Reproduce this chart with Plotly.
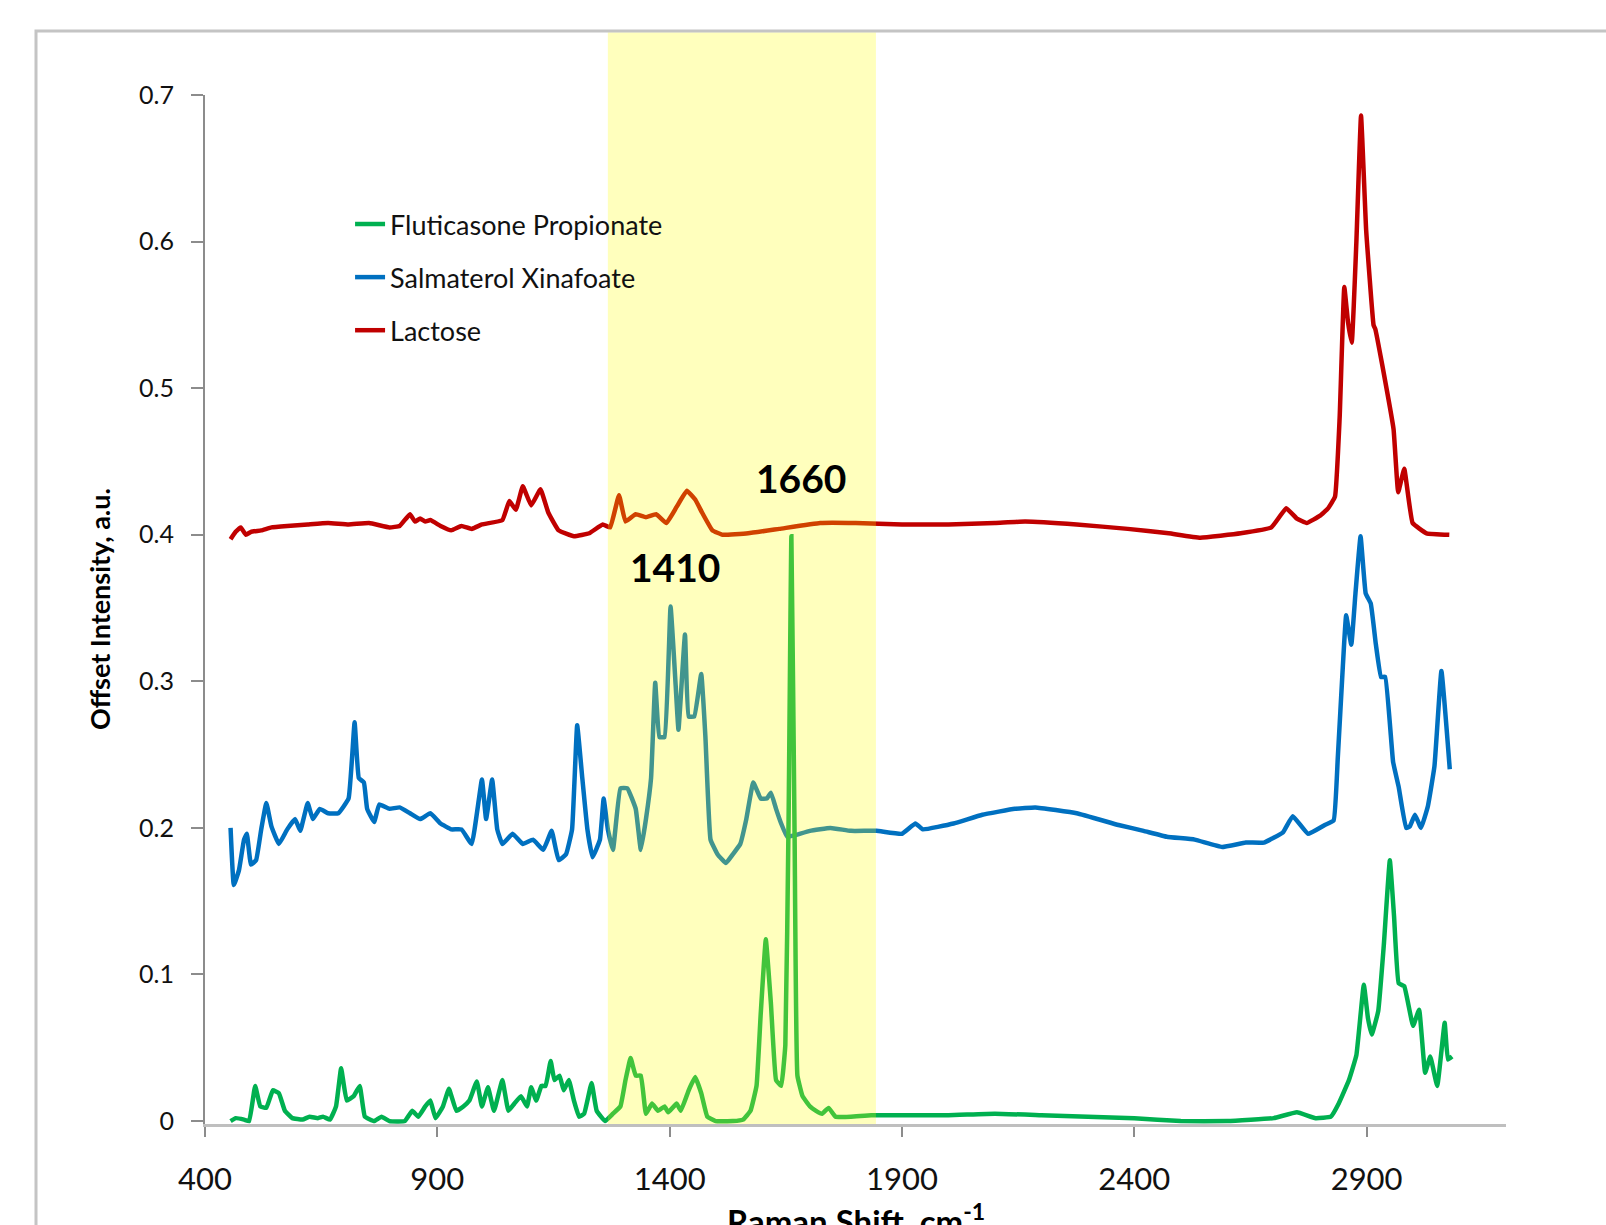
import plotly.graph_objects as go

# ---------------- data ----------------
lactose_x = [455, 466, 477, 488, 499, 521, 543, 577, 621, 665, 709, 753, 797, 819, 841, 852, 863, 874, 885,
             907, 930, 952, 974, 996, 1040, 1055, 1069, 1084, 1102, 1122, 1139, 1161, 1194, 1227, 1256, 1272,
             1291, 1305, 1327, 1349, 1371, 1393, 1415, 1437, 1455, 1470, 1492, 1514, 1569, 1636, 1724, 1800,
             1900, 2000, 2100, 2165, 2276, 2386, 2474, 2542, 2629, 2695, 2727, 2750, 2771, 2800, 2817, 2832,
             2842, 2852, 2860, 2868, 2878, 2888, 2899, 2915, 2919, 2933, 2958, 2968, 2981, 2999, 3029, 3078]
lactose_y = [0.397, 0.402, 0.405, 0.400, 0.402, 0.403, 0.405, 0.406, 0.407, 0.408, 0.407, 0.408, 0.405, 0.406,
             0.414, 0.409, 0.411, 0.409, 0.410, 0.406, 0.403, 0.406, 0.404, 0.407, 0.410, 0.423, 0.417, 0.433,
             0.420, 0.431, 0.415, 0.403, 0.399, 0.401, 0.407, 0.405, 0.427, 0.409, 0.414, 0.412, 0.414, 0.408,
             0.419, 0.430, 0.424, 0.415, 0.403, 0.400, 0.401, 0.404, 0.408, 0.408, 0.407, 0.407, 0.408, 0.409,
             0.407, 0.404, 0.401, 0.398, 0.401, 0.405, 0.418, 0.411, 0.408, 0.413, 0.418, 0.426, 0.480, 0.569,
             0.545, 0.531, 0.600, 0.686, 0.608, 0.543, 0.540, 0.517, 0.472, 0.429, 0.445, 0.408, 0.401, 0.400]

salm_x = [455, 462, 473, 484, 490, 499, 510, 521, 532, 543, 559, 577, 594, 605, 621, 632, 647, 665, 687, 709,
          722, 731, 742, 749, 764, 775, 797, 819, 841, 863, 885, 907, 930, 952, 974, 996, 1005, 1018, 1029,
          1040, 1062, 1084, 1106, 1128, 1146, 1161, 1177, 1190, 1201, 1212, 1223, 1234, 1250, 1258, 1267,
          1278, 1294, 1309, 1327, 1338, 1349, 1360, 1369, 1378, 1389, 1402, 1413, 1419, 1433, 1441, 1453,
          1468, 1477, 1488, 1503, 1521, 1536, 1552, 1565, 1580, 1596, 1609, 1618, 1629, 1640, 1653, 1669,
          1702, 1746, 1790, 1845, 1900, 1929, 1945, 2011, 2073, 2143, 2187, 2276, 2366, 2420, 2470, 2530,
          2589, 2640, 2679, 2720, 2741, 2774, 2810, 2829, 2838, 2849, 2856, 2867, 2876, 2887, 2898, 2909,
          2920, 2931, 2940, 2957, 2969, 2985, 2993, 3004, 3017, 3032, 3046, 3061, 3079]
salm_y = [0.200, 0.161, 0.171, 0.192, 0.196, 0.175, 0.178, 0.199, 0.217, 0.201, 0.189, 0.199, 0.206, 0.198,
          0.217, 0.206, 0.213, 0.210, 0.210, 0.220, 0.272, 0.234, 0.231, 0.213, 0.204, 0.216, 0.213, 0.214,
          0.210, 0.206, 0.210, 0.203, 0.199, 0.199, 0.189, 0.233, 0.206, 0.233, 0.199, 0.189, 0.196, 0.189,
          0.192, 0.185, 0.198, 0.178, 0.182, 0.199, 0.270, 0.234, 0.199, 0.180, 0.192, 0.220, 0.199, 0.185,
          0.227, 0.227, 0.213, 0.185, 0.206, 0.234, 0.299, 0.262, 0.262, 0.351, 0.297, 0.267, 0.332, 0.276,
          0.276, 0.305, 0.262, 0.192, 0.182, 0.176, 0.182, 0.189, 0.206, 0.231, 0.220, 0.220, 0.224, 0.213,
          0.203, 0.194, 0.195, 0.198, 0.200, 0.198, 0.198, 0.196, 0.203, 0.199, 0.203, 0.209, 0.213, 0.214,
          0.210, 0.202, 0.198, 0.194, 0.192, 0.187, 0.190, 0.190, 0.197, 0.208, 0.196, 0.202, 0.205, 0.248,
          0.311, 0.345, 0.325, 0.360, 0.399, 0.360, 0.353, 0.325, 0.303, 0.303, 0.245, 0.228, 0.200, 0.201,
          0.209, 0.200, 0.215, 0.242, 0.307, 0.240]

flut_x = [455, 466, 484, 495, 508, 519, 532, 546, 559, 572, 588, 610, 625, 643, 654, 669, 682, 693, 705, 720,
          733, 744, 764, 780, 797, 830, 846, 859, 874, 885, 896, 912, 925, 941, 956, 969, 985, 996, 1009, 1022,
          1040, 1053, 1066, 1080, 1093, 1102, 1113, 1124, 1133, 1144, 1152, 1163, 1172, 1183, 1194, 1205,
          1216, 1232, 1243, 1261, 1278, 1294, 1305, 1316, 1327, 1338, 1349, 1362, 1375, 1389, 1397, 1415,
          1424, 1441, 1455, 1468, 1481, 1499, 1536, 1558, 1574, 1587, 1596, 1607, 1618, 1629, 1640, 1649,
          1656, 1662, 1669, 1675, 1686, 1702, 1715, 1728, 1742, 1757, 1790, 1834, 1900, 2000, 2100, 2200,
          2300, 2400, 2500, 2600, 2700, 2750, 2790, 2823, 2840, 2862, 2878, 2894, 2903, 2911, 2925, 2937,
          2950, 2959, 2969, 2981, 3000, 3013, 3026, 3037, 3052, 3068, 3075, 3084]
flut_y = [0.000, 0.002, 0.001, 0.000, 0.024, 0.010, 0.009, 0.021, 0.019, 0.007, 0.002, 0.001, 0.003, 0.002,
          0.003, 0.001, 0.010, 0.036, 0.014, 0.017, 0.024, 0.003, 0.000, 0.003, 0.000, 0.000, 0.007, 0.003,
          0.010, 0.014, 0.002, 0.010, 0.022, 0.007, 0.010, 0.014, 0.027, 0.010, 0.023, 0.007, 0.028, 0.007,
          0.012, 0.017, 0.010, 0.023, 0.014, 0.024, 0.024, 0.041, 0.028, 0.031, 0.021, 0.028, 0.014, 0.003,
          0.005, 0.026, 0.007, 0.000, 0.005, 0.010, 0.028, 0.043, 0.031, 0.031, 0.005, 0.012, 0.007, 0.010,
          0.006, 0.012, 0.007, 0.021, 0.030, 0.019, 0.003, 0.000, 0.000, 0.001, 0.007, 0.024, 0.073, 0.124,
          0.080, 0.028, 0.024, 0.052, 0.206, 0.399, 0.192, 0.031, 0.017, 0.010, 0.007, 0.005, 0.009, 0.003,
          0.003, 0.004, 0.004, 0.004, 0.005, 0.004, 0.003, 0.002, 0.000, 0.000, 0.002, 0.006, 0.002, 0.003,
          0.012, 0.028, 0.045, 0.093, 0.070, 0.059, 0.075, 0.120, 0.178, 0.140, 0.094, 0.092, 0.065, 0.076,
          0.033, 0.044, 0.024, 0.067, 0.042, 0.044]

series_names = ["Lactose", "Salmaterol Xinafoate", "Fluticasone Propionate"]
series_colors = ["#C00000", "#0070C0", "#00B050"]
legend_ranks = [3, 2, 1]

x_ticks = [400, 900, 1400, 1900, 2400, 2900]
x_range = [400, 3200]
y_ticks = [0, 0.1, 0.2, 0.3, 0.4, 0.5, 0.6, 0.7]
y_tick_text = ["0", "0.1", "0.2", "0.3", "0.4", "0.5", "0.6", "0.7"]
y_range = [-0.002, 0.7]
band = [1267, 1844]
peak_labels = ["1410", "1660"]
peak_label_x = [1411, 1682]
peak_label_y = [0.378, 0.439]

FONT = "Lato"

fig = go.Figure()
for name, color, rank, xs, ys in zip(series_names, series_colors, legend_ranks,
                                     [lactose_x, salm_x, flut_x], [lactose_y, salm_y, flut_y]):
    fig.add_trace(go.Scatter(x=xs, y=ys, mode="lines", name=name, legendgroup=name, legendrank=rank,
                             line=dict(color=color, width=4.5, shape="spline", smoothing=0.3)))

# yellow highlight band (drawn above the spectra, semi-transparent)
fig.add_shape(type="rect", xref="x", yref="paper", x0=band[0], x1=band[1], y0=0, y1=1.061,
              fillcolor="rgba(255,255,0,0.26)", line=dict(width=0), layer="above")
# chart-area border
fig.add_shape(type="rect", xref="paper", yref="paper", x0=-0.1299, x1=1.2, y0=-0.3, y1=1.0622,
              fillcolor="rgba(0,0,0,0)", line=dict(color="#C4C4C4", width=3), layer="above")

for t, px, py in zip(peak_labels, peak_label_x, peak_label_y):
    fig.add_annotation(x=px, y=py, text=f"<b>{t}</b>", showarrow=False, xanchor="center",
                       font=dict(family=FONT, size=39, color="black"))

fig.add_annotation(xref="paper", yref="paper", x=0.5, y=-0.069, xanchor="center", yanchor="top",
                   text="<b>Raman Shift, cm<sup>-1</sup></b>", showarrow=False,
                   font=dict(family=FONT, size=33, color="black"))
fig.add_annotation(xref="paper", yref="paper", x=-0.0807, y=0.5005, xanchor="center", yanchor="middle",
                   textangle=-90, text="<b>Offset Intensity, a.u.</b>", showarrow=False,
                   font=dict(family=FONT, size=27, color="black"))

fig.update_layout(
    width=1606, height=1225,
    margin=dict(l=205, r=100, t=95, b=101),
    paper_bgcolor="white", plot_bgcolor="white",
    font=dict(family=FONT, color="#222222"),
    showlegend=True,
    legend=dict(x=0.1115, y=0.898, xanchor="left", yanchor="top",
                traceorder="grouped", tracegroupgap=15,
                font=dict(family=FONT, size=27, color="#111111"),
                bgcolor="rgba(0,0,0,0)", itemwidth=30),
    xaxis=dict(range=x_range, tickmode="array", tickvals=x_ticks,
               showgrid=False, zeroline=False, showline=True, linecolor="#BFBFBF", linewidth=3,
               ticks="outside", ticklen=10, tickwidth=2, tickcolor="#8C8C8C",
               tickfont=dict(family=FONT, size=31, color="#111111"), ticklabelstandoff=16),
    yaxis=dict(range=y_range, tickmode="array", tickvals=y_ticks, ticktext=y_tick_text,
               showgrid=False, zeroline=False, showline=True, linecolor="#8C8C8C", linewidth=2,
               ticks="outside", ticklen=12, tickwidth=2, tickcolor="#8C8C8C",
               tickfont=dict(family=FONT, size=25, color="#111111"), ticklabelstandoff=12),
)

fig.write_html("out.html", config={"displayModeBar": False},
               post_script="document.body.style.margin='0';document.body.style.padding='0';"
                           "document.body.style.overflow='hidden';")
